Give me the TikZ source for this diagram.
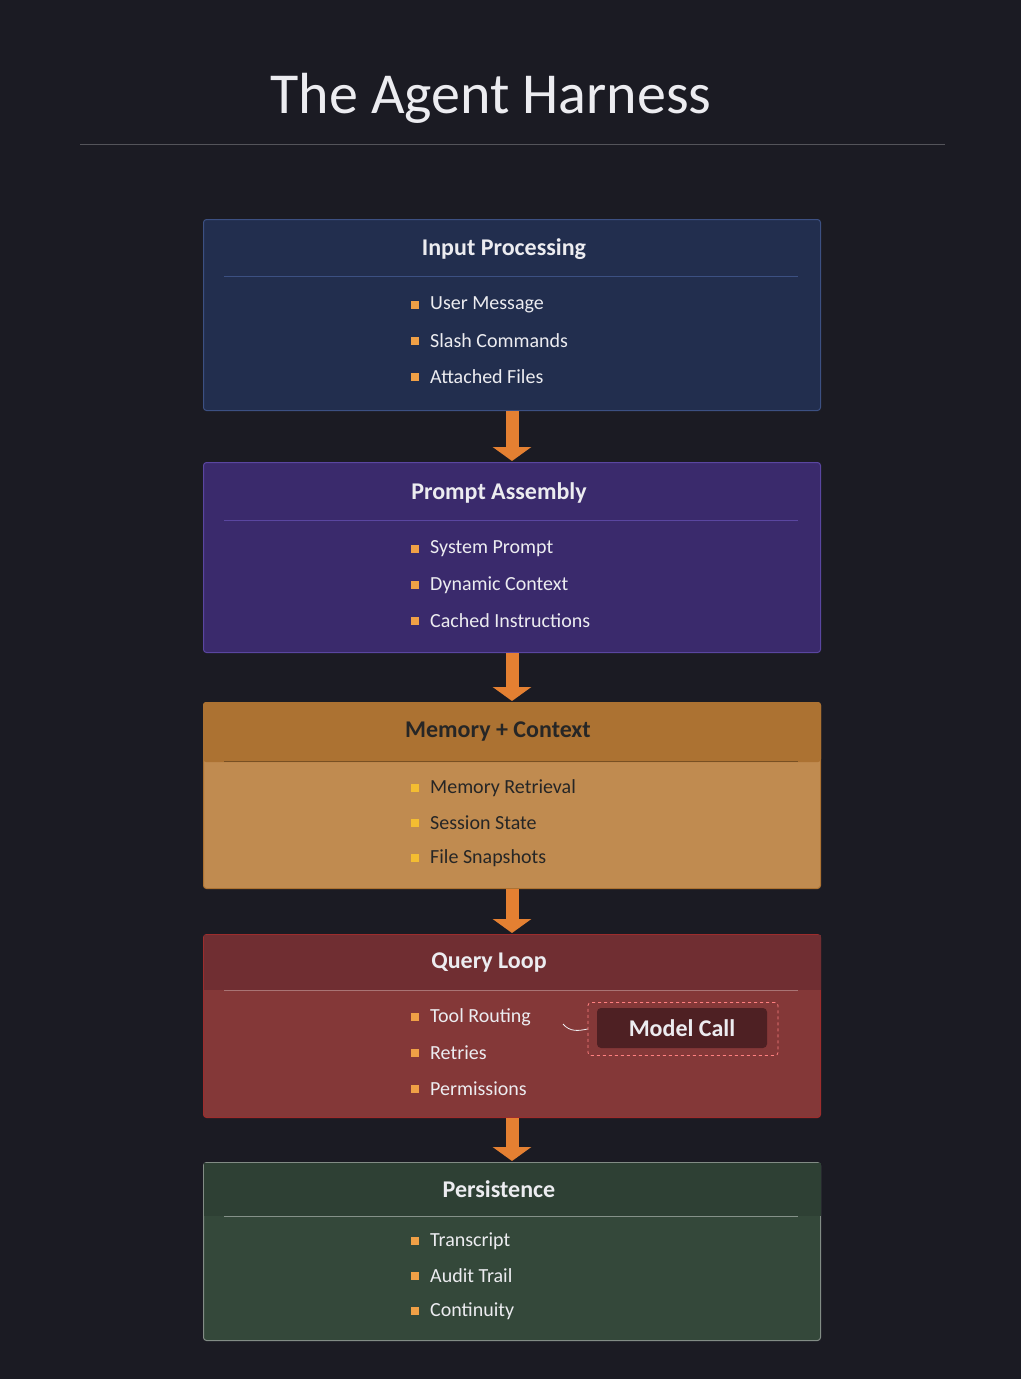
\documentclass[tikz,border=0pt]{standalone}
\usepackage{fontspec}
\setmainfont{Carlito}
\usetikzlibrary{arrows.meta,positioning}
\definecolor{bgc}{RGB}{27,27,35}
\definecolor{ipfill}{RGB}{34,46,78}
\definecolor{ipline}{RGB}{60,80,130}
\definecolor{pafill}{RGB}{58,42,108}
\definecolor{paline}{RGB}{90,70,160}
\definecolor{mcfill}{RGB}{192,139,80}
\definecolor{mchead}{RGB}{172,114,50}
\definecolor{qlfill}{RGB}{132,56,56}
\definecolor{qlhead}{RGB}{112,46,50}
\definecolor{psfill}{RGB}{52,72,58}
\definecolor{pshead}{RGB}{46,64,52}
\definecolor{orng}{RGB}{228,128,50}
\definecolor{bullc}{RGB}{240,160,70}
\definecolor{txtc}{RGB}{236,236,240}
\tikzset{
  stage/.style={draw=#1, line width=1pt, rounded corners=3pt, minimum width=617pt, anchor=north west, inner sep=0pt},
  head/.style={font=\fontsize{24}{28}\selectfont\bfseries, text=txtc},
  item/.style={font=\fontsize{20}{24}\selectfont, text=txtc, anchor=west, inner sep=0pt},
  bullet/.style={fill=bullc, minimum size=8pt, inner sep=0pt},
  flow/.style={draw=orng, line width=13pt, -{Triangle[length=14pt 0, width=38pt 0]}, shorten >=1pt},
}
\begin{document}
\begin{tikzpicture}[x=1pt,y=-1pt]
\fill[bgc] (0,0) rectangle (1021,1379);
\useasboundingbox (0,0) rectangle (1021,1379);

% title
\node[font=\fontsize{58}{64}\selectfont, text=txtc] (title) at (491,98) {The Agent Harness};
\draw[white!25!bgc, line width=0.6pt] (80,144) -- (945,144);

% stage boxes
\node[stage=ipline, fill=ipfill, minimum height=191pt] (ip) at (203,219) {};
\node[stage=paline, fill=pafill, minimum height=190pt] (pa) at (203,462) {};
\node[stage=mchead, fill=mcfill, minimum height=186pt] (mc) at (203,702) {};
\node[stage=qlfill!80!red, fill=qlfill, minimum height=183pt] (ql) at (203,934) {};
\node[stage=pshead!60!white, fill=psfill, minimum height=178pt] (ps) at (203,1162) {};

% header bands
\fill[mchead, rounded corners=3pt] (mc.north west) rectangle ([yshift=-60pt]mc.north east);
\fill[qlhead] ([shift={(0.5pt,-1pt)}]ql.north west) rectangle ([shift={(-0.5pt,-56pt)}]ql.north east);
\fill[pshead] ([shift={(0.5pt,-1pt)}]ps.north west) rectangle ([shift={(-0.5pt,-54pt)}]ps.north east);

% header texts and rules
\node[head] (iph) at (504,249) {Input Processing};
\node[head] (pah) at (499,493) {Prompt Assembly};
\node[head, text=black!85] (mch) at (498,732) {Memory + Context};
\node[head] (qlh) at (489,963) {Query Loop};
\node[head] (psh) at (499,1189) {Persistence};
\foreach \y/\c in {276/ipline, 520/paline, 761/mchead!70!black, 990/qlfill!70!white, 1216/psfill!60!white}
  \draw[\c, line width=0.8pt] (224,\y) -- (798,\y);

% list items
\foreach \y/\t in {305/User Message, 341/Slash Commands, 377/Attached Files,
  549/System Prompt, 585/Dynamic Context, 621/Cached Instructions,
  1017/Tool Routing, 1053/Retries, 1089/Permissions,
  1241/Transcript, 1276/Audit Trail, 1311/Continuity}{
  \node[bullet] at (415,\y) {};
  \node[item] at (430,\y) {\t};
}
\foreach \y/\t in {788/Memory Retrieval, 823/Session State, 858/File Snapshots}{
  \node[bullet, fill=bullc!70!yellow] at (415,\y) {};
  \node[item, text=black!85] at (430,\y) {\t};
}

% model call
\node[draw=red!50!white, dashed, line width=0.8pt, rounded corners=3pt, minimum width=190pt, minimum height=53pt] (mcall) at (683,1029) {};
\node[fill=qlhead!70!black, rounded corners=4pt, minimum width=170pt, minimum height=40pt, font=\fontsize{24}{28}\selectfont\bfseries, text=txtc] (mcallin) at (682,1028) {Model Call};
\draw[txtc!80, line width=0.8pt] (563,1024) .. controls (570,1032) and (578,1031) .. (mcall.west);

% flow arrows
\draw[flow] (ip.south) -- (pa.north);
\draw[flow] (pa.south) -- (mc.north);
\draw[flow] (mc.south) -- (ql.north);
\draw[flow] (ql.south) -- (ps.north);
\end{tikzpicture}
\end{document}
